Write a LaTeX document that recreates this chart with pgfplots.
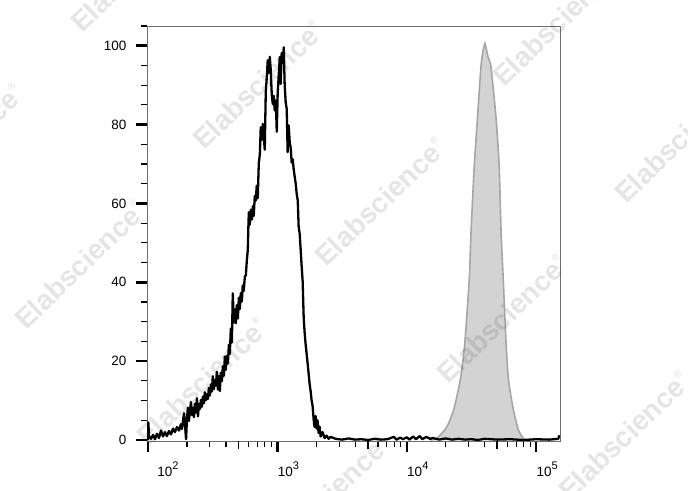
\documentclass[border=0pt]{standalone}
\usepackage{pgfplots}
\pgfplotsset{compat=1.18}
\usepackage{fontspec}
\setmainfont{Liberation Sans}
\definecolor{gfill}{HTML}{D3D3D3}
\definecolor{gedge}{HTML}{A6A6A6}
\definecolor{framec}{HTML}{6E6E6E}
\newcommand{\wm}[2]{\node[rotate=44, text=black, text opacity=0.1, font=\fontsize{28}{28}\selectfont\bfseries, inner sep=0pt] at (#1,#2) {Elabscience\raisebox{0.9ex}{\fontsize{10}{10}\selectfont\textregistered}};}
\newcommand{\sx}[1]{10\raisebox{7pt}{\fontsize{11}{12}\selectfont #1}}
\begin{document}
\begin{tikzpicture}[x=1pt,y=1pt]
\useasboundingbox (0,0) rectangle (688,490);
\begin{axis}[
  at={(147pt,49pt)}, anchor=south west,
  scale only axis, width=413pt, height=415pt,
  xmin=1.992, xmax=5.184, ymin=-0.25, ymax=105,
  axis line style={framec, line width=0.8pt},
  xtick={2,3,4,5},
  xticklabels={\hspace*{18pt}\sx{2}, \sx{3}, \sx{4}, \sx{5}},
  minor xtick={2.301,2.477,2.602,2.778,2.845,2.903,2.954,3.301,3.477,3.602,3.778,3.845,3.903,3.954,4.301,4.477,4.602,4.778,4.845,4.903,4.954},
  extra x ticks={2.699,3.699,4.699},
  extra x tick labels={},
  extra x tick style={major tick length=8pt, major tick style={black, line width=1.8pt}},
  ytick={0,20,40,60,80,100},
  minor ytick={5,10,15,25,30,35,45,50,55,65,70,75,85,90,95,105},
  tick align=outside,
  xtick pos=lower, ytick pos=left,
  major tick length=11pt, minor tick length=6pt,
  major tick style={black, line width=2.6pt},
  minor tick style={black, line width=1.2pt},
  yticklabel style={font=\fontsize{13.5}{16}\selectfont, xshift=-6pt},
  xticklabel style={font=\fontsize{13.5}{16}\selectfont, xshift=11pt, yshift=-6pt},
  /pgf/number format/assume math mode=true,
]
\addplot[fill=gfill, draw=gedge, line width=1.6pt, smooth, tension=0.35] coordinates {
(4.182,0) (4.221,0.2) (4.259,1.3) (4.311,3.4) (4.362,7.6) (4.413,15.2) (4.447,24.0) (4.483,41.0) (4.496,52.4) (4.521,69.3) (4.547,82.0) (4.573,94.7) (4.590,98.8) (4.604,100.6) (4.612,99.5) (4.629,97.0) (4.650,94.7) (4.689,82.0) (4.714,69.3) (4.729,52.4) (4.745,41.0) (4.768,24.0) (4.786,15.2) (4.824,7.6) (4.863,2.5) (4.901,0.4) (4.922,0)
};
\addplot[black, line width=2.3pt, line join=round] coordinates {
(2.000,0) (2.002,4.5) (2.008,1.0) (2.023,0.3) (2.039,1.3) (2.054,0.2) (2.069,1.6) (2.085,0.5) (2.100,2.4) (2.116,0.9) (2.131,2.0) (2.146,1.0) (2.162,2.3) (2.177,1.4) (2.193,2.9) (2.208,2.0) (2.224,3.3) (2.239,2.4) (2.254,4.0) (2.262,2.8) (2.278,6.8) (2.285,4.2) (2.292,1.0) (2.294,0.2) (2.301,5.5) (2.308,8.2) (2.316,4.8) (2.324,7.6) (2.332,9.6) (2.339,6.3) (2.347,8.2) (2.355,5.8) (2.362,9.2) (2.370,7.0) (2.378,10.6) (2.386,6.0) (2.393,9.1) (2.401,7.9) (2.409,10.2) (2.416,8.4) (2.424,11.0) (2.432,9.3) (2.439,12.1) (2.447,10.1) (2.455,11.6) (2.463,10.4) (2.470,13.2) (2.478,11.3) (2.486,14.1) (2.493,12.3) (2.501,16.2) (2.509,12.9) (2.517,15.1) (2.524,13.8) (2.532,17.3) (2.540,12.8) (2.547,16.2) (2.555,12.4) (2.563,17.1) (2.571,14.9) (2.578,18.7) (2.586,16.3) (2.594,21.2) (2.601,17.8) (2.609,21.3) (2.617,19.4) (2.625,24.2) (2.632,21.8) (2.640,28.3) (2.648,24.7) (2.655,37.2) (2.663,29.8) (2.671,33.1) (2.678,29.6) (2.686,34.2) (2.694,30.8) (2.702,36.1) (2.709,33.2) (2.717,37.3) (2.725,35.1) (2.732,39.2) (2.740,37.8) (2.748,41.4) (2.756,41.8) (2.763,45.3) (2.771,48.2) (2.775,53.5) (2.779,57.8) (2.786,54.6) (2.794,58.4) (2.802,55.9) (2.810,59.3) (2.817,56.8) (2.825,61.9) (2.833,60.7) (2.840,64.5) (2.848,61.3) (2.856,70.2) (2.864,72.4) (2.871,79.3) (2.879,76.1) (2.887,80.2) (2.894,77.4) (2.902,73.6) (2.910,88.4) (2.918,92.1) (2.925,96.3) (2.933,93.1) (2.941,97.2) (2.948,94.0) (2.956,87.8) (2.964,85.2) (2.971,87.3) (2.979,83.6) (2.987,86.1) (2.995,78.2) (3.002,88.0) (3.010,92.4) (3.018,97.1) (3.025,90.3) (3.033,98.2) (3.041,95.6) (3.049,99.6) (3.056,90.1) (3.064,85.6) (3.072,83.9) (3.079,73.0) (3.087,79.8) (3.095,75.6) (3.103,73.9) (3.110,70.4) (3.118,71.2) (3.126,68.6) (3.133,66.9) (3.141,65.1) (3.149,62.4) (3.157,60.8) (3.164,54.2) (3.172,52.3) (3.180,48.1) (3.187,44.2) (3.195,40.3) (3.203,31.0) (3.210,27.4) (3.218,24.3) (3.226,21.8) (3.233,19.6) (3.241,16.9) (3.249,14.2) (3.257,12.3) (3.264,10.1) (3.272,8.6) (3.280,5.2) (3.287,3.3) (3.295,6.1) (3.303,2.9) (3.310,5.0) (3.318,1.8) (3.326,3.4) (3.334,0.9) (3.349,2.0) (3.365,0.5) (3.380,1.1) (3.396,0.3) (3.411,0.8) (3.45,0.3) (3.50,0.1) (3.55,0.4) (3.60,0.1) (3.65,0.2) (3.70,0.0) (3.75,0.3) (3.80,0.1) (3.85,0.2) (3.90,0.8) (3.92,0.1) (3.95,0.6) (3.97,0.2) (4.00,0.7) (4.02,0.1) (4.05,0.9) (4.07,0.2) (4.10,1.0) (4.12,0.2) (4.15,0.8) (4.18,0.3) (4.20,0.5) (4.25,0.1) (4.30,0.4) (4.35,0.1) (4.40,0.3) (4.45,0.1) (4.50,0.2) (4.55,0.0) (4.60,0.3) (4.70,0.1) (4.80,0.2) (4.90,0.0) (5.00,0.2) (5.10,0.1) (5.17,0.3) (5.18,1.2)
};
\end{axis}
\begin{scope}
\clip (0,0) rectangle (688,490);
\wm{136}{522}
\wm{258}{405}
\wm{380}{288}
\wm{502}{171}
\wm{624}{54}
\wm{-42}{342}
\wm{80}{225}
\wm{202}{108}
\wm{324}{-9}
\wm{558}{468}
\wm{680}{351}
\end{scope}
\end{tikzpicture}
\end{document}
